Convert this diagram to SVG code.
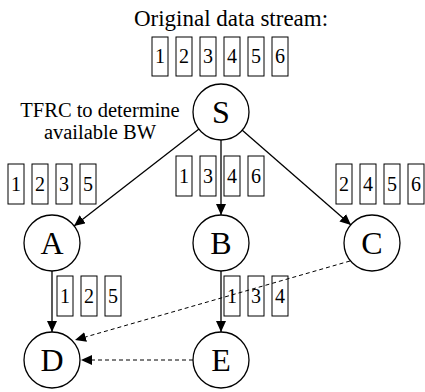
<svg xmlns="http://www.w3.org/2000/svg" width="425" height="392" viewBox="0 0 425 392">
<style>
text{font-family:"Liberation Serif","Times New Roman",serif;fill:#000}
.t{font-size:23px;text-anchor:middle}
.lbl{font-size:20.5px;text-anchor:middle}
.n{font-size:32px;text-anchor:middle}
.d{font-size:20px;text-anchor:middle}
.b{fill:#fff;stroke:#000;stroke-width:1}
circle{fill:#fff;stroke:#000;stroke-width:1.3}
.e{stroke:#000;stroke-width:1.3;fill:none}
.ds{stroke-dasharray:4 3;stroke-width:1}
</style>
<defs>
<marker id="ah" markerUnits="userSpaceOnUse" markerWidth="12" markerHeight="10" refX="11" refY="5" orient="auto">
<path d="M0,0 L11,5 L0,10 Z" fill="#000"/>
</marker>
</defs>
<text class="t" x="231" y="26">Original data stream:</text>
<g id="stream">
<rect class="b" x="152" y="37" width="16" height="39"/><text class="d" x="160" y="63">1</text>
<rect class="b" x="176" y="37" width="16" height="39"/><text class="d" x="184" y="63">2</text>
<rect class="b" x="200" y="37" width="16" height="39"/><text class="d" x="208" y="63">3</text>
<rect class="b" x="224" y="37" width="16" height="39"/><text class="d" x="232" y="63">4</text>
<rect class="b" x="248" y="37" width="16" height="39"/><text class="d" x="256" y="63">5</text>
<rect class="b" x="272" y="37" width="16" height="39"/><text class="d" x="280" y="63">6</text>
</g>
<text class="lbl" x="100" y="117">TFRC to determine</text>
<text class="lbl" x="100" y="139">available BW</text>
<g id="connectors">
<line class="e" x1="199" y1="129" x2="74" y2="226" marker-end="url(#ah)"/>
<line class="e" x1="221" y1="140" x2="221" y2="215" marker-end="url(#ah)"/>
<line class="e" x1="242" y1="130" x2="351" y2="225" marker-end="url(#ah)"/>
<line class="e" x1="52" y1="271" x2="52" y2="332" marker-end="url(#ah)"/>
<line class="e" x1="221" y1="271" x2="221" y2="332" marker-end="url(#ah)"/>
</g>
<g id="pkts">
<rect class="b" x="8" y="164" width="16" height="40"/><text class="d" x="16" y="191">1</text>
<rect class="b" x="32" y="164" width="16" height="40"/><text class="d" x="40" y="191">2</text>
<rect class="b" x="56" y="164" width="16" height="40"/><text class="d" x="64" y="191">3</text>
<rect class="b" x="80" y="164" width="16" height="40"/><text class="d" x="88" y="191">5</text>
<rect class="b" x="176" y="156" width="16" height="40"/><text class="d" x="184" y="183">1</text>
<rect class="b" x="200" y="156" width="16" height="40"/><text class="d" x="208" y="183">3</text>
<rect class="b" x="224" y="156" width="16" height="40"/><text class="d" x="232" y="183">4</text>
<rect class="b" x="248" y="156" width="16" height="40"/><text class="d" x="256" y="183">6</text>
<rect class="b" x="336" y="164" width="16" height="40"/><text class="d" x="344" y="191">2</text>
<rect class="b" x="360" y="164" width="16" height="40"/><text class="d" x="368" y="191">4</text>
<rect class="b" x="384" y="164" width="16" height="40"/><text class="d" x="392" y="191">5</text>
<rect class="b" x="408" y="164" width="16" height="40"/><text class="d" x="416" y="191">6</text>
<rect class="b" x="57" y="276" width="16" height="40"/><text class="d" x="65" y="303">1</text>
<rect class="b" x="81" y="276" width="16" height="40"/><text class="d" x="89" y="303">2</text>
<rect class="b" x="105" y="276" width="16" height="40"/><text class="d" x="113" y="303">5</text>
<rect class="b" x="224" y="276" width="16" height="40"/><text class="d" x="232" y="303">1</text>
<rect class="b" x="248" y="276" width="16" height="40"/><text class="d" x="256" y="303">3</text>
<rect class="b" x="272" y="276" width="16" height="40"/><text class="d" x="280" y="303">4</text>
</g>
<g id="dashed">
<line class="e ds" x1="350" y1="261" x2="75" y2="340" marker-end="url(#ah)"/>
<line class="e ds" x1="193" y1="360" x2="81" y2="360" marker-end="url(#ah)"/>
</g>
<g id="S"><circle cx="221" cy="112" r="28"/><text class="n" x="221" y="123">S</text></g>
<g id="A"><circle cx="52" cy="243" r="28"/><text class="n" x="52" y="254">A</text></g>
<g id="B"><circle cx="221" cy="243" r="28"/><text class="n" x="221" y="254">B</text></g>
<g id="C"><circle cx="372" cy="243" r="28"/><text class="n" x="372" y="254">C</text></g>
<g id="D"><circle cx="52" cy="360" r="28"/><text class="n" x="52" y="371">D</text></g>
<g id="E"><circle cx="221" cy="360" r="28"/><text class="n" x="221" y="371">E</text></g>
</svg>
